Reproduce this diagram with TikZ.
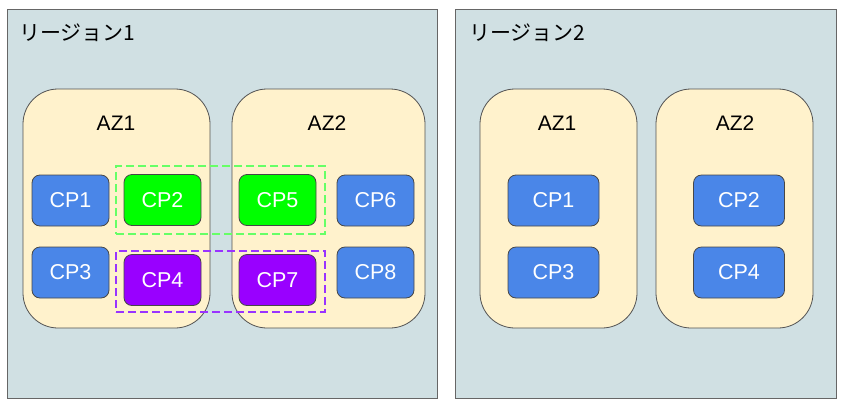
\documentclass[tikz,border=0pt]{standalone}
\usepackage{fontspec}
\setmainfont{Liberation Sans}
\newfontfamily\cjk{Noto Sans CJK JP}
\definecolor{regfill}{HTML}{D0E0E3}
\definecolor{regline}{HTML}{666666}
\definecolor{azfill}{HTML}{FFF2CC}
\definecolor{cpblue}{HTML}{4A86E8}
\definecolor{cpgreen}{HTML}{00FF00}
\definecolor{cppurple}{HTML}{9900FF}
\definecolor{dgreen}{HTML}{66FF66}
\definecolor{dpurple}{HTML}{9933FF}
\tikzset{
  region/.style={draw=regline, fill=regfill, line width=0.8pt, inner sep=0pt},
  azbox/.style={draw=regline!80!black, fill=azfill, line width=0.8pt, rounded corners=35pt, inner sep=0pt},
  azlabel/.style={font=\fontsize{21}{24}\selectfont, text=black, inner sep=0pt},
  cpbox/.style={draw=regline!70!black, line width=0.8pt, rounded corners=8pt, text=white,
    font=\fontsize{21.5}{24}\selectfont, minimum width=77pt, minimum height=51pt, inner sep=0pt},
  cpwide/.style={cpbox, minimum width=91pt},
  grp/.style={line width=2.5pt, dash pattern=on 8pt off 4pt, inner sep=0pt},
  reglabel/.style={font=\cjk\fontsize{21}{24}\selectfont, anchor=west, inner sep=0pt}
}
\begin{document}
\begin{tikzpicture}[x=1pt,y=-1pt]
\useasboundingbox (0,0) rectangle (845,410);
\fill[white] (0,0) rectangle (845,410);
% regions
\node[region, minimum width=430pt, minimum height=389pt] (reg1) at (222,203.5) {};
\node[region, minimum width=381pt, minimum height=389pt] (reg2) at (645.5,203.5) {};
\node[reglabel] (reg1lbl) at (19,33) {リージョン1};
\node[reglabel] (reg2lbl) at (469,33) {リージョン2};
% AZs region 1
\node[azbox, minimum width=187pt, minimum height=239pt] (r1az1) at (116.5,208.5) {};
\node[azbox, minimum width=193pt, minimum height=239pt] (r1az2) at (328.5,208.5) {};
\node[azlabel] (r1az1lbl) at (116,123) {AZ1};
\node[azlabel] (r1az2lbl) at (327,123) {AZ2};
% AZs region 2
\node[azbox, minimum width=157pt, minimum height=239pt] (r2az1) at (558.5,208.5) {};
\node[azbox, minimum width=157pt, minimum height=239pt] (r2az2) at (734.5,208.5) {};
\node[azlabel] (r2az1lbl) at (557,123) {AZ1};
\node[azlabel] (r2az2lbl) at (735,123) {AZ2};
% group outlines
\node[grp, draw=dgreen, minimum width=209pt, minimum height=68pt] (ggreen) at (220.5,200) {};
\node[grp, draw=dpurple, minimum width=209pt, minimum height=61pt] (gpurple) at (220.5,281.5) {};
% CPs region 1
\node[cpbox, fill=cpblue] (r1cp1) at (70.5,200.5) {CP1};
\node[cpbox, fill=cpgreen] (r1cp2) at (162.5,200) {CP2};
\node[cpbox, fill=cpgreen] (r1cp5) at (277.5,200) {CP5};
\node[cpbox, fill=cpblue] (r1cp6) at (375.5,200.5) {CP6};
\node[cpbox, fill=cpblue] (r1cp3) at (70.5,272.5) {CP3};
\node[cpbox, fill=cppurple] (r1cp4) at (162.5,280) {CP4};
\node[cpbox, fill=cppurple] (r1cp7) at (277.5,280) {CP7};
\node[cpbox, fill=cpblue] (r1cp8) at (375.5,272.5) {CP8};
% CPs region 2
\node[cpwide, fill=cpblue] (r2cp1) at (553.5,200.5) {CP1};
\node[cpwide, fill=cpblue] (r2cp3) at (553.5,272.5) {CP3};
\node[cpwide, fill=cpblue] (r2cp2) at (739,200.5) {CP2};
\node[cpwide, fill=cpblue] (r2cp4) at (739,272.5) {CP4};
\end{tikzpicture}
\end{document}
